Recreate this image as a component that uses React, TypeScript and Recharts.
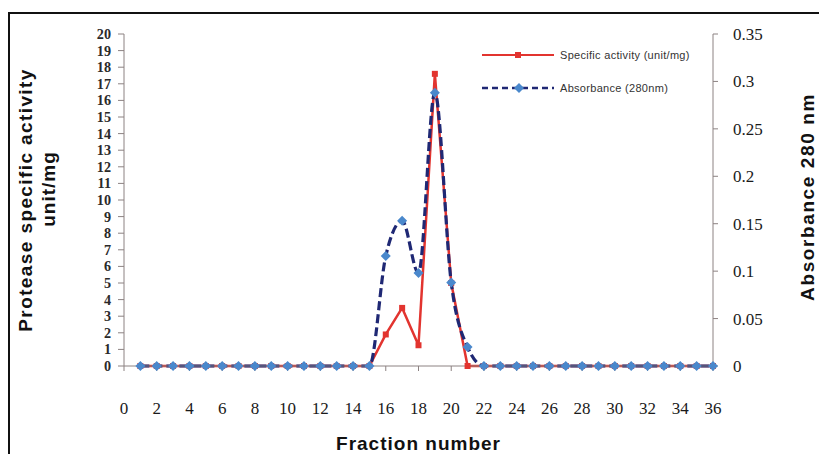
import { LineChart, Line, XAxis, YAxis, Legend, Label } from 'recharts';

// Fraction numbers collected from the column
const fractions = [
  1, 2, 3, 4, 5, 6, 7, 8, 9, 10, 11, 12, 13, 14, 15, 16, 17, 18,
  19, 20, 21, 22, 23, 24, 25, 26, 27, 28, 29, 30, 31, 32, 33, 34, 35, 36,
];

// Protease specific activity (unit/mg) per fraction
const specificActivity = [
  0, 0, 0, 0, 0, 0, 0, 0, 0, 0, 0, 0, 0, 0, 0,
  1.9, 3.5, 1.25, 17.6, 5.0, 0,
  0, 0, 0, 0, 0, 0, 0, 0, 0, 0, 0, 0, 0, 0, 0,
];

// Absorbance at 280 nm per fraction
const absorbance = [
  0, 0, 0, 0, 0, 0, 0, 0, 0, 0, 0, 0, 0, 0, 0,
  0.116, 0.153, 0.098, 0.288, 0.088, 0.02,
  0, 0, 0, 0, 0, 0, 0, 0, 0, 0, 0, 0, 0, 0, 0,
];

const fractionTicks = [0, 2, 4, 6, 8, 10, 12, 14, 16, 18, 20, 22, 24, 26, 28, 30, 32, 34, 36];
const activityTicks = [0, 1, 2, 3, 4, 5, 6, 7, 8, 9, 10, 11, 12, 13, 14, 15, 16, 17, 18, 19, 20];
const absorbanceTicks = [0, 0.05, 0.1, 0.15, 0.2, 0.25, 0.3, 0.35];

const data = fractions.map((f, i) => ({
  fraction: f,
  activity: specificActivity[i],
  absorbance: absorbance[i],
}));

const RED = '#e2342f';
const NAVY = '#1f2874';
const LIGHT_BLUE = '#4a88cc';
const AXIS = '#8c8282';

const tickFont = { fontFamily: '"Liberation Serif", serif', fontSize: 17, fill: '#1a1a1a' };
// left axis has 21 ticks packed tightly, so a slightly smaller size keeps them apart
const leftTickFont = { ...tickFont, fontSize: 14.2, fontWeight: 700, fill: '#2a2a2a' };
const titleFont = {
  fontFamily: '"Liberation Sans", Arial, sans-serif',
  fontSize: 19,
  fontWeight: 700,
  fill: '#111',
  letterSpacing: 1,
};

const SquareDot = (props: any) => {
  const { cx, cy, index } = props;
  if (cx == null || cy == null) return <g key={index} />;
  return <rect key={index} x={cx - 3} y={cy - 3} width={6} height={6} fill={RED} />;
};

const DiamondDot = (props: any) => {
  const { cx, cy, index } = props;
  if (cx == null || cy == null) return <g key={index} />;
  const r = 5;
  return (
    <polygon
      key={index}
      points={`${cx},${cy - r} ${cx + r},${cy} ${cx},${cy + r} ${cx - r},${cy}`}
      fill={LIGHT_BLUE}
    />
  );
};

const renderLegend = () => (
  <div
    style={{
      fontFamily: '"Liberation Sans", Arial, sans-serif',
      fontSize: 11,
      letterSpacing: 0.3,
      color: '#333',
    }}
  >
    <div style={{ display: 'flex', alignItems: 'center', height: 20 }}>
      <svg width={72} height={10}>
        <line x1={0} y1={5} x2={72} y2={5} stroke={RED} strokeWidth={2} />
        <rect x={33} y={2} width={6} height={6} fill={RED} />
      </svg>
      <span style={{ marginLeft: 6 }}>Specific activity (unit/mg)</span>
    </div>
    <div style={{ display: 'flex', alignItems: 'center', height: 20, marginTop: 13 }}>
      <svg width={72} height={10}>
        <line x1={0} y1={5} x2={72} y2={5} stroke={NAVY} strokeWidth={2.5} strokeDasharray="6 4" />
        <polygon points="37,0 42,5 37,10 32,5" fill={LIGHT_BLUE} />
      </svg>
      <span style={{ marginLeft: 6 }}>Absorbance (280nm)</span>
    </div>
  </div>
);

export default function App() {
  return (
    <div style={{ position: 'relative', width: 811, height: 446, background: '#fff' }}>
      <div
        style={{
          position: 'absolute',
          left: 0,
          top: 4,
          right: 0,
          bottom: 0,
          borderTop: '2px solid #111',
          borderLeft: '2px solid #111',
        }}
      />
      <LineChart
        width={811}
        height={446}
        data={data}
        margin={{ top: 26, right: 0, bottom: 0, left: 0 }}
        style={{ position: 'absolute', left: 0, top: 0 }}
      >
        <XAxis
          dataKey="fraction"
          type="number"
          domain={[0, 36]}
          ticks={fractionTicks}
          interval={0}
          height={88}
          tickSize={5}
          tickMargin={31}
          stroke={AXIS}
          tickLine={{ stroke: AXIS }}
          tick={tickFont}
        >
          <Label
            content={({ viewBox }: any) => (
              <text
                x={viewBox.x + viewBox.width / 2}
                y={viewBox.y + 84}
                textAnchor="middle"
                {...titleFont}
              >
                Fraction number
              </text>
            )}
          />
        </XAxis>
        <YAxis
          yAxisId="left"
          domain={[0, 20]}
          ticks={activityTicks}
          interval={0}
          width={116}
          tickSize={6}
          tickMargin={7}
          stroke={AXIS}
          tickLine={{ stroke: AXIS }}
          tick={leftTickFont}
        >
          <Label
            content={({ viewBox }: any) => {
              const cy = viewBox.y + viewBox.height / 2;
              return (
                <g>
                  <text
                    x={24}
                    y={cy}
                    transform={`rotate(-90, 24, ${cy})`}
                    textAnchor="middle"
                    {...titleFont}
                    letterSpacing={1.4}
                  >
                    Protease specific activity
                  </text>
                  <text
                    x={47}
                    y={cy - 11}
                    transform={`rotate(-90, 47, ${cy - 11})`}
                    textAnchor="middle"
                    {...titleFont}
                  >
                    unit/mg
                  </text>
                </g>
              );
            }}
          />
        </YAxis>
        <YAxis
          yAxisId="right"
          orientation="right"
          domain={[0, 0.35]}
          ticks={absorbanceTicks}
          interval={0}
          width={106}
          tickSize={5}
          tickMargin={15}
          stroke={AXIS}
          tickLine={{ stroke: AXIS }}
          tick={tickFont}
        >
          <Label
            content={({ viewBox }: any) => {
              const x = viewBox.x + 101;
              const cy = viewBox.y + viewBox.height / 2 - 3;
              return (
                <text
                  x={x}
                  y={cy}
                  transform={`rotate(-90, ${x}, ${cy})`}
                  textAnchor="middle"
                  {...titleFont}
                  letterSpacing={1.6}
                >
                  Absorbance 280 nm
                </text>
              );
            }}
          />
        </YAxis>
        <Legend
          layout="vertical"
          align="center"
          verticalAlign="middle"
          content={renderLegend}
          wrapperStyle={{ left: 474, top: 37, width: 260 }}
        />
        <Line
          yAxisId="left"
          type="linear"
          dataKey="activity"
          name="Specific activity (unit/mg)"
          stroke={RED}
          strokeWidth={2.5}
          dot={SquareDot}
          activeDot={false}
          isAnimationActive={false}
        />
        <Line
          yAxisId="right"
          type="monotone"
          dataKey="absorbance"
          name="Absorbance (280nm)"
          stroke={NAVY}
          strokeWidth={3.2}
          strokeDasharray="9 4"
          dot={DiamondDot}
          activeDot={false}
          isAnimationActive={false}
        />
      </LineChart>
    </div>
  );
}
